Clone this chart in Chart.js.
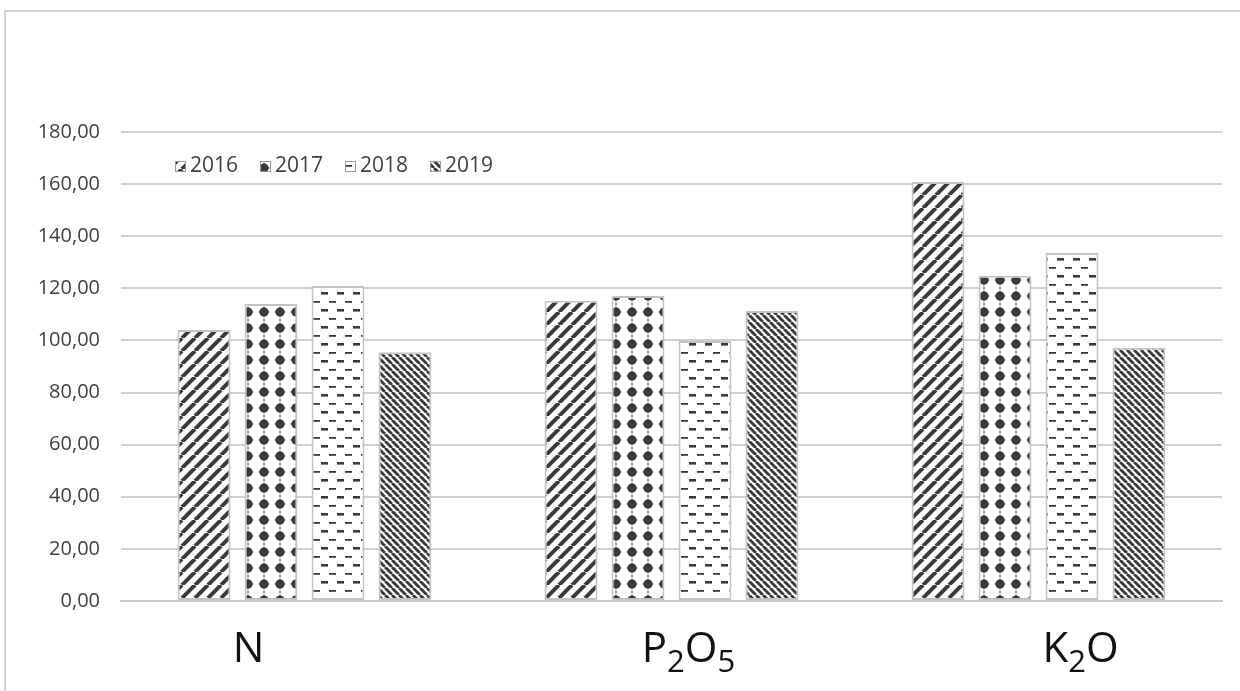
<!DOCTYPE html>
<html>
<head>
<meta charset="utf-8">
<script src="https://cdn.jsdelivr.net/npm/chart.js@4.4.1/dist/chart.umd.min.js"></script>
<style>
  html, body { margin: 0; padding: 0; background: #ffffff; overflow: hidden; }
  #wrap { position: relative; width: 1240px; height: 691px; }
  #frame {
    position: absolute; left: 4px; top: 10px; width: 1300px; height: 720px;
    border-top: 2px solid #cfcfcf; border-left: 2px solid #cfcfcf; box-sizing: border-box;
  }
  #chart { position: absolute; left: 0; top: 0; }
</style>
</head>
<body>
<div id="wrap">
  <div id="frame"></div>
  <canvas id="chart" width="1240" height="691"></canvas>
</div>
<script>
// Nutrient categories (digits are rendered as subscripts)
const categories = ['N', 'P2O5', 'K2O'];
const years = ['2016', '2017', '2018', '2019'];

// Values per year, in category order
const values2016 = [104.0, 115.2, 160.8];
const values2017 = [114.0, 117.1, 124.8];
const values2018 = [120.9, 99.8, 133.6];
const values2019 = [95.5, 111.3, 97.2];

// Value axis
const yMin = 0;
const yMax = 180;
const yStep = 20;

const INK = '#3a3a3a';

function makeTile(w, h, draw) {
  const c = document.createElement('canvas');
  c.width = w; c.height = h;
  const g = c.getContext('2d');
  g.fillStyle = '#ffffff';
  g.fillRect(0, 0, w, h);
  g.fillStyle = INK;
  g.strokeStyle = INK;
  draw(g, w, h);
  return g.createPattern(c, 'repeat');
}

// wide forward diagonal stripes
const patWideUp = makeTile(13, 13, (g, s) => {
  g.lineWidth = 4.0;
  for (let k = -1; k <= 1; k++) {
    g.beginPath();
    g.moveTo(k * s, s);
    g.lineTo(k * s + s, 0);
    g.stroke();
  }
});

// dotted grid with small spikes
const patDots = makeTile(16, 16, (g) => {
  g.lineWidth = 1;
  g.beginPath();
  g.moveTo(8, 0); g.lineTo(8, 1.5);
  g.moveTo(8, 14.5); g.lineTo(8, 16);
  g.stroke();
  g.beginPath();
  g.arc(8, 8, 4.6, 0, Math.PI * 2);
  g.fill();
  g.beginPath();
  g.moveTo(2.2, 8); g.lineTo(8, 5); g.lineTo(13.8, 8); g.lineTo(8, 11); g.closePath();
  g.fill();
  g.beginPath();
  g.moveTo(8, 2.2); g.lineTo(11, 8); g.lineTo(8, 13.8); g.lineTo(5, 8); g.closePath();
  g.fill();
});

// staggered horizontal dashes
const patDashes = makeTile(16, 17, (g) => {
  g.fillRect(1, 3, 7, 2.6);
  g.fillRect(9, 12, 7, 1.8);
});

// dense backward diagonal stripes
const patDenseDown = makeTile(7, 7, (g, s) => {
  g.lineWidth = 2.9;
  for (let k = -1; k <= 1; k++) {
    g.beginPath();
    g.moveTo(k * s, 0);
    g.lineTo(k * s + s, s);
    g.stroke();
  }
});

const fills = [patWideUp, patDots, patDashes, patDenseDown];
const seriesValues = [values2016, values2017, values2018, values2019];

const datasets = years.map((yr, i) => ({
  label: yr,
  data: seriesValues[i],
  backgroundColor: fills[i],
  borderColor: '#c4c4c4',
  borderWidth: 2,
  borderSkipped: false,
  categoryPercentage: 0.73,
  barPercentage: 0.79
}));

const fmt = (v) => v.toFixed(2).replace('.', ',');

// legend drawn inside the plot area, top left
const insideLegend = {
  id: 'insideLegend',
  afterDraw(chart) {
    const ctx = chart.ctx;
    ctx.save();
    ctx.font = '21px "Open Sans", sans-serif';
    ctx.textBaseline = 'middle';
    const y = 166;
    chart.data.datasets.forEach((ds, i) => {
      const x = 175 + i * 85;
      ctx.fillStyle = ds.backgroundColor;
      ctx.fillRect(x, y - 5, 11, 11);
      ctx.strokeStyle = '#9a9a9a';
      ctx.lineWidth = 1;
      ctx.strokeRect(x + 0.5, y - 4.5, 10, 10);
      ctx.fillStyle = '#404040';
      ctx.textAlign = 'left';
      ctx.fillText(ds.label, x + 15, y);
    });
    ctx.restore();
  }
};

// category labels with subscript digits
const categoryLabels = {
  id: 'categoryLabels',
  afterDraw(chart, args, opts) {
    const ctx = chart.ctx;
    const xs = chart.scales.x;
    const base = opts.baseline;
    const big = '42px "Open Sans", sans-serif';
    const small = '31px "Open Sans", sans-serif';
    ctx.save();
    ctx.fillStyle = '#111111';
    ctx.textBaseline = 'alphabetic';
    ctx.textAlign = 'left';
    chart.data.labels.forEach((lab, i) => {
      const parts = lab.split('').map(ch => ({ ch, sub: /[0-9]/.test(ch) }));
      let total = 0;
      parts.forEach(p => { ctx.font = p.sub ? small : big; p.w = ctx.measureText(p.ch).width; total += p.w; });
      let x = xs.getPixelForValue(i) + opts.shift[i] - total / 2;
      parts.forEach(p => {
        ctx.font = p.sub ? small : big;
        ctx.fillText(p.ch, x, p.sub ? base + 10 : base);
        x += p.w;
      });
    });
    ctx.restore();
  }
};

new Chart(document.getElementById('chart'), {
  type: 'bar',
  data: { labels: categories, datasets },
  plugins: [insideLegend, categoryLabels],
  options: {
    responsive: false,
    animation: false,
    layout: { padding: { top: 132, right: 18, left: 0, bottom: 0 } },
    plugins: {
      legend: { display: false },
      tooltip: { enabled: false },
      categoryLabels: { baseline: 662, shift: [-56, 17, 42] }
    },
    scales: {
      x: {
        afterFit(s) { s.height = 90; },
        ticks: { display: false },
        grid: { display: false, drawTicks: false },
        border: { display: true, color: '#c8c8c8', width: 2 }
      },
      y: {
        min: yMin,
        max: yMax,
        afterFit(s) { s.width = 121; },
        ticks: {
          stepSize: yStep,
          padding: 21,
          color: '#404040',
          font: { family: '"Open Sans", sans-serif', size: 20 },
          callback: (v) => fmt(v)
        },
        grid: { color: '#d0d0d0', lineWidth: 2, drawTicks: false },
        border: { display: false }
      }
    }
  }
});
</script>
</body>
</html>
